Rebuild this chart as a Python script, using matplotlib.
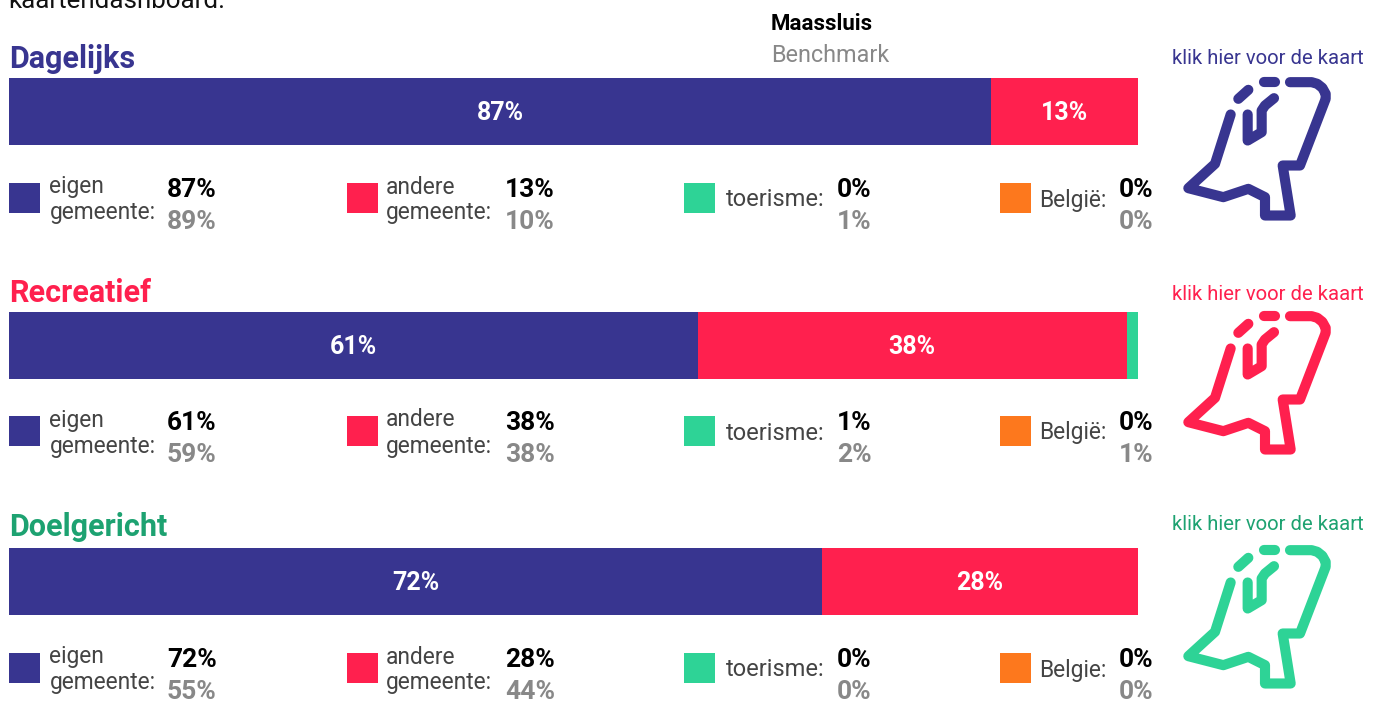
import matplotlib
matplotlib.use("Agg")
import matplotlib.pyplot as plt

plt.rcParams['font.family'] = ['Roboto', 'DejaVu Sans']

W, H = 1380, 702
NAVY, RED, GREEN, ORANGE = '#383590', '#FF204E', '#2ED396', '#FD781D'
TEAL = '#1DA271'
GREY = '#888888'
LABEL = '#444444'

sections = ['Dagelijks', 'Recreatief', 'Doelgericht']
section_colors = [NAVY, RED, TEAL]
icon_colors = [NAVY, RED, GREEN]
link_colors = [NAVY, RED, TEAL]
eigen = [87, 61, 72]
andere = [13, 38, 28]
toerisme = [0, 1, 0]
belgie = [0, 0, 0]
bench_eigen = [89, 59, 55]
bench_andere = [10, 38, 44]
bench_toerisme = [1, 2, 0]
bench_belgie = [0, 1, 0]
belgie_labels = ['België:', 'België:', 'Belgie:']
toerisme_labels = ['toerisme:', 'toerisme:', 'toerisme:']

bar_tops = [78, 312, 548]
heading_y = [59, 293, 527]
link_y = [58, 294, 524]
icon_dy = [0, 234, 468]
row_y = [198, 431, 668]

icon_main = [(390,125),(455,125),(472,130),(487,142),(497,160),(497,175),(420,375),(368,375),(392,525),
             (315,525),(315,470),(265,445),(190,470),(85,443),(165,370),(212,222)]
icon_inner = [(342,173),(315,195),(305,210),(305,275),(263,300),(263,222)]
icon_d1 = [(235,175),(265,148)]
icon_d2 = [(312,125),(345,125)]

fig = plt.figure(figsize=(W/100, H/100), dpi=100, facecolor='white')
ov = fig.add_axes([0, 0, 1, 1])
ov.set_xlim(0, W); ov.set_ylim(H, 0); ov.axis('off')

for i, name in enumerate(sections):
    ax = fig.add_axes([9/W, 1-(bar_tops[i]+67)/H, 1129/W, 67/H])
    ax.set_xlim(0, 100); ax.set_ylim(0, 1); ax.axis('off')
    left = 0
    for v, c in zip((eigen[i], andere[i], toerisme[i], belgie[i]), (NAVY, RED, GREEN, ORANGE)):
        if v > 0:
            ax.barh(0.5, v, left=left, height=1, color=c, linewidth=0)
            if v >= 5:
                ax.text(left+v/2, 0.485, f'{v}%', color='white', ha='center', va='center',
                        fontsize=18, fontweight='bold')
        left += v

    ov.text(9, heading_y[i], name, color=section_colors[i], fontsize=22, fontweight='bold',
            ha='left', va='center')
    ov.text(1268, link_y[i], 'klik hier voor de kaart', color=link_colors[i], fontsize=14.6,
            ha='center', va='center')

    for path in (icon_main, icon_inner, icon_d1, icon_d2):
        xs = [p[0]/3+1160 for p in path]
        ys = [p[1]/3+40.5+icon_dy[i] for p in path]
        ov.plot(xs, ys, color=icon_colors[i], lw=7.3, solid_capstyle='round', solid_joinstyle='round')

    y = row_y[i]
    swatches = [(9, NAVY), (347, RED), (684, GREEN), (1000, ORANGE)]
    for sx, c in swatches:
        ov.add_patch(plt.Rectangle((sx, y-15), 31, 30, color=c, lw=0))
    ov.text(49.5, y-11, 'eigen', color=LABEL, fontsize=16.4, ha='left', va='center')
    ov.text(49.5, y+15, 'gemeente:', color=LABEL, fontsize=16.4, ha='left', va='center')
    ov.text(385.5, y-11, 'andere', color=LABEL, fontsize=16.4, ha='left', va='center')
    ov.text(385.5, y+15, 'gemeente:', color=LABEL, fontsize=16.4, ha='left', va='center')
    ov.text(726, y+2, toerisme_labels[i], color=LABEL, fontsize=17, ha='left', va='center')
    ov.text(1039, y+2, belgie_labels[i], color=LABEL, fontsize=16.4, ha='left', va='center')
    for x, a, b in ((167, eigen[i], bench_eigen[i]), (505, andere[i], bench_andere[i]),
                    (837, toerisme[i], bench_toerisme[i]), (1119, belgie[i], bench_belgie[i])):
        ov.text(x, y-8, f'{a}%', color='black', fontsize=19, fontweight='bold', ha='left', va='center')
        ov.text(x, y+24, f'{b}%', color=GREY, fontsize=19, fontweight='bold', ha='left', va='center')

ov.text(771, 24, 'Maassluis', color='black', fontsize=16, fontweight='bold', ha='left', va='center')
ov.text(771, 55, 'Benchmark', color=GREY, fontsize=16.8, ha='left', va='center')
ov.text(8, 8, 'kaartendashboard.', color='#111111', fontsize=18.7, ha='left', va='baseline', clip_on=True)

fig.savefig('out.png', dpi=100)
